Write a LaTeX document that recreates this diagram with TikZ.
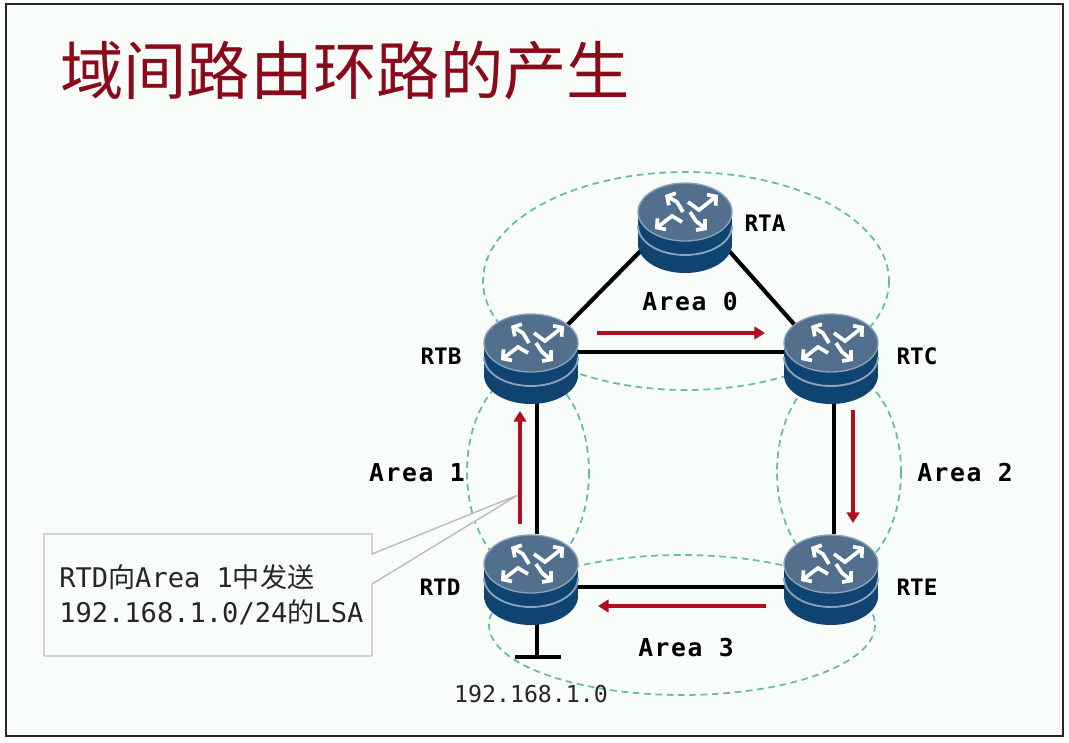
\documentclass[tikz,border=0pt]{standalone}
\usepackage{fontspec}
\usetikzlibrary{arrows.meta,backgrounds,shapes.geometric}
\setmainfont{DejaVu Sans Mono}
\newfontfamily\cjk{Noto Sans CJK SC}
\newfontfamily\areafont[LetterSpace=6.5]{DejaVu Sans Mono}
\definecolor{TitleRed}{RGB}{139,10,26}
\definecolor{FlowRed}{RGB}{178,14,32}
\definecolor{PageTint}{RGB}{248,253,250}
\definecolor{AreaTeal}{RGB}{98,186,176}
\definecolor{RouterTop}{RGB}{82,112,142}
\definecolor{RouterRim}{RGB}{138,163,186}
\definecolor{RouterBody}{RGB}{15,68,112}
\definecolor{NoteGray}{RGB}{190,190,190}
\tikzset{
  routerbody/.pic={
    \fill[RouterBody] (-47,-15) rectangle (47,17);
    \fill[RouterBody] (0,17) ellipse [x radius=47,y radius=29];
    \draw[RouterRim,line width=1.4pt] (-47,-1) arc[start angle=180,end angle=0,x radius=47,y radius=29];
    \draw[RouterRim,fill=RouterTop,line width=1pt] (0,-15) ellipse [x radius=47,y radius=29];
    \draw[glyph] (3,-25) -- (14,-17) -- (33,-32);
    \draw[glyph] (-2,-15) -- (-8,-25) -- (-20,-32);
    \draw[glyph] (-3,-5) -- (-13,-11) -- (-30,2);
    \draw[glyph] (5,-15) -- (11,-6) -- (22,3);
  }
}
\begin{document}
\begin{tikzpicture}[
  x=0.75pt,y=-0.75pt,
  router/.style={ellipse,minimum width=70.5pt,minimum height=67.5pt,inner sep=0pt},
  glyph/.style={white,line width=2.8pt,-{Straight Barb[length=4.5pt,width=10.5pt]}},
  link/.style={black,line width=3.1pt},
  flow/.style={FlowRed,line width=2.6pt,-{Triangle[length=8pt,width=9.5pt]}},
  area/.style={AreaTeal,dashed,line width=1.3pt,dash pattern=on 5pt off 3.5pt},
  rlabel/.style={font=\bfseries\fontsize{17}{19}\selectfont},
  alabel/.style={font=\areafont\bfseries\fontsize{18.5}{20}\selectfont}
]
  \useasboundingbox (0,0) rectangle (1069,742);
  % routers
  \foreach \name/\x/\y in {rta/685/227,rtb/531/358,rtc/831/358,rtd/531/579,rte/831/579}{
    \node[router] (\name) at (\x,\y) {};
    \pic at (\name) {routerbody};
  }
  \coordinate (gnd) at (537,657);
  \coordinate (gndl) at (515,657);
  \coordinate (gndr) at (561,657);
  % flow ends
  \coordinate (bcs) at (597,333);
  \coordinate (bce) at (765,333);
  \coordinate (ces) at (853,410);
  \coordinate (cee) at (853,523);
  \coordinate (eds) at (766,606);
  \coordinate (ede) at (598,606);
  \coordinate (dbs) at (520,524);
  \coordinate (dbe) at (520,411);
  \begin{scope}[on background layer]
    \draw[fill=PageTint,draw=black!85,line width=1.8pt] (6,4) rectangle (1063,736);
    \draw[area] (686,281) ellipse [x radius=203,y radius=109];
    \draw[area] (528,472) ellipse [x radius=61,y radius=100];
    \draw[area] (839,472) ellipse [x radius=62,y radius=100];
    \draw[area] (682,625) ellipse [x radius=193,y radius=70];
    \draw[link] (rta.207) -- (rtb.42);
    \draw[link] (rta.333) -- (rtc.138);
    \draw[link] (rtb.7) -- (rtc.173);
    \draw[link] ([xshift=4.5pt]rtb.south) -- ([xshift=4.5pt]rtd.north);
    \draw[link] ([xshift=2.5pt]rtc.south) -- ([xshift=2.5pt]rte.north);
    \draw[link] (rtd.350) -- (rte.190);
    \draw[link] ([xshift=4.5pt]rtd.south) -- (gnd);
    \draw[link] (gndl) -- (gndr);
  \end{scope}
  \draw[flow] (bcs) -- (bce);
  \draw[flow] (ces) -- (cee);
  \draw[flow] (eds) -- (ede);
  \draw[flow] (dbs) -- (dbe);
  % note
  \draw[NoteGray,fill=PageTint,line width=1.1pt] (44,534) -- (372,534) -- (372,554) -- (518,495) -- (372,584) -- (372,656) -- (44,656) -- cycle;
  \node[anchor=west,font=\fontsize{20.3}{26}\selectfont,align=left,inner sep=0pt,black!85] (note) at (59,595) {RTD{\cjk 向}Area 1{\cjk 中发送}\\192.168.1.0/24{\cjk 的}LSA};
  % labels
  \node[anchor=west,inner sep=0pt,TitleRed,font=\cjk\fontsize{47.5}{52}\selectfont] (title) at (60,71) {域间路由环路的产生};
  \node[rlabel] (lrta) at (765,223) {RTA};
  \node[rlabel] (lrtb) at (441,356) {RTB};
  \node[rlabel] (lrtc) at (917,356) {RTC};
  \node[rlabel] (lrtd) at (440,587) {RTD};
  \node[rlabel] (lrte) at (917,587) {RTE};
  \node[alabel] (area0) at (690,302) {Area 0};
  \node[alabel] (area1) at (417,473) {Area 1};
  \node[alabel] (area2) at (965,473) {Area 2};
  \node[alabel] (area3) at (686,648) {Area 3};
  \node[font=\fontsize{17.4}{19}\selectfont,black!85] (net) at (531,694) {192.168.1.0};
\end{tikzpicture}
\end{document}
